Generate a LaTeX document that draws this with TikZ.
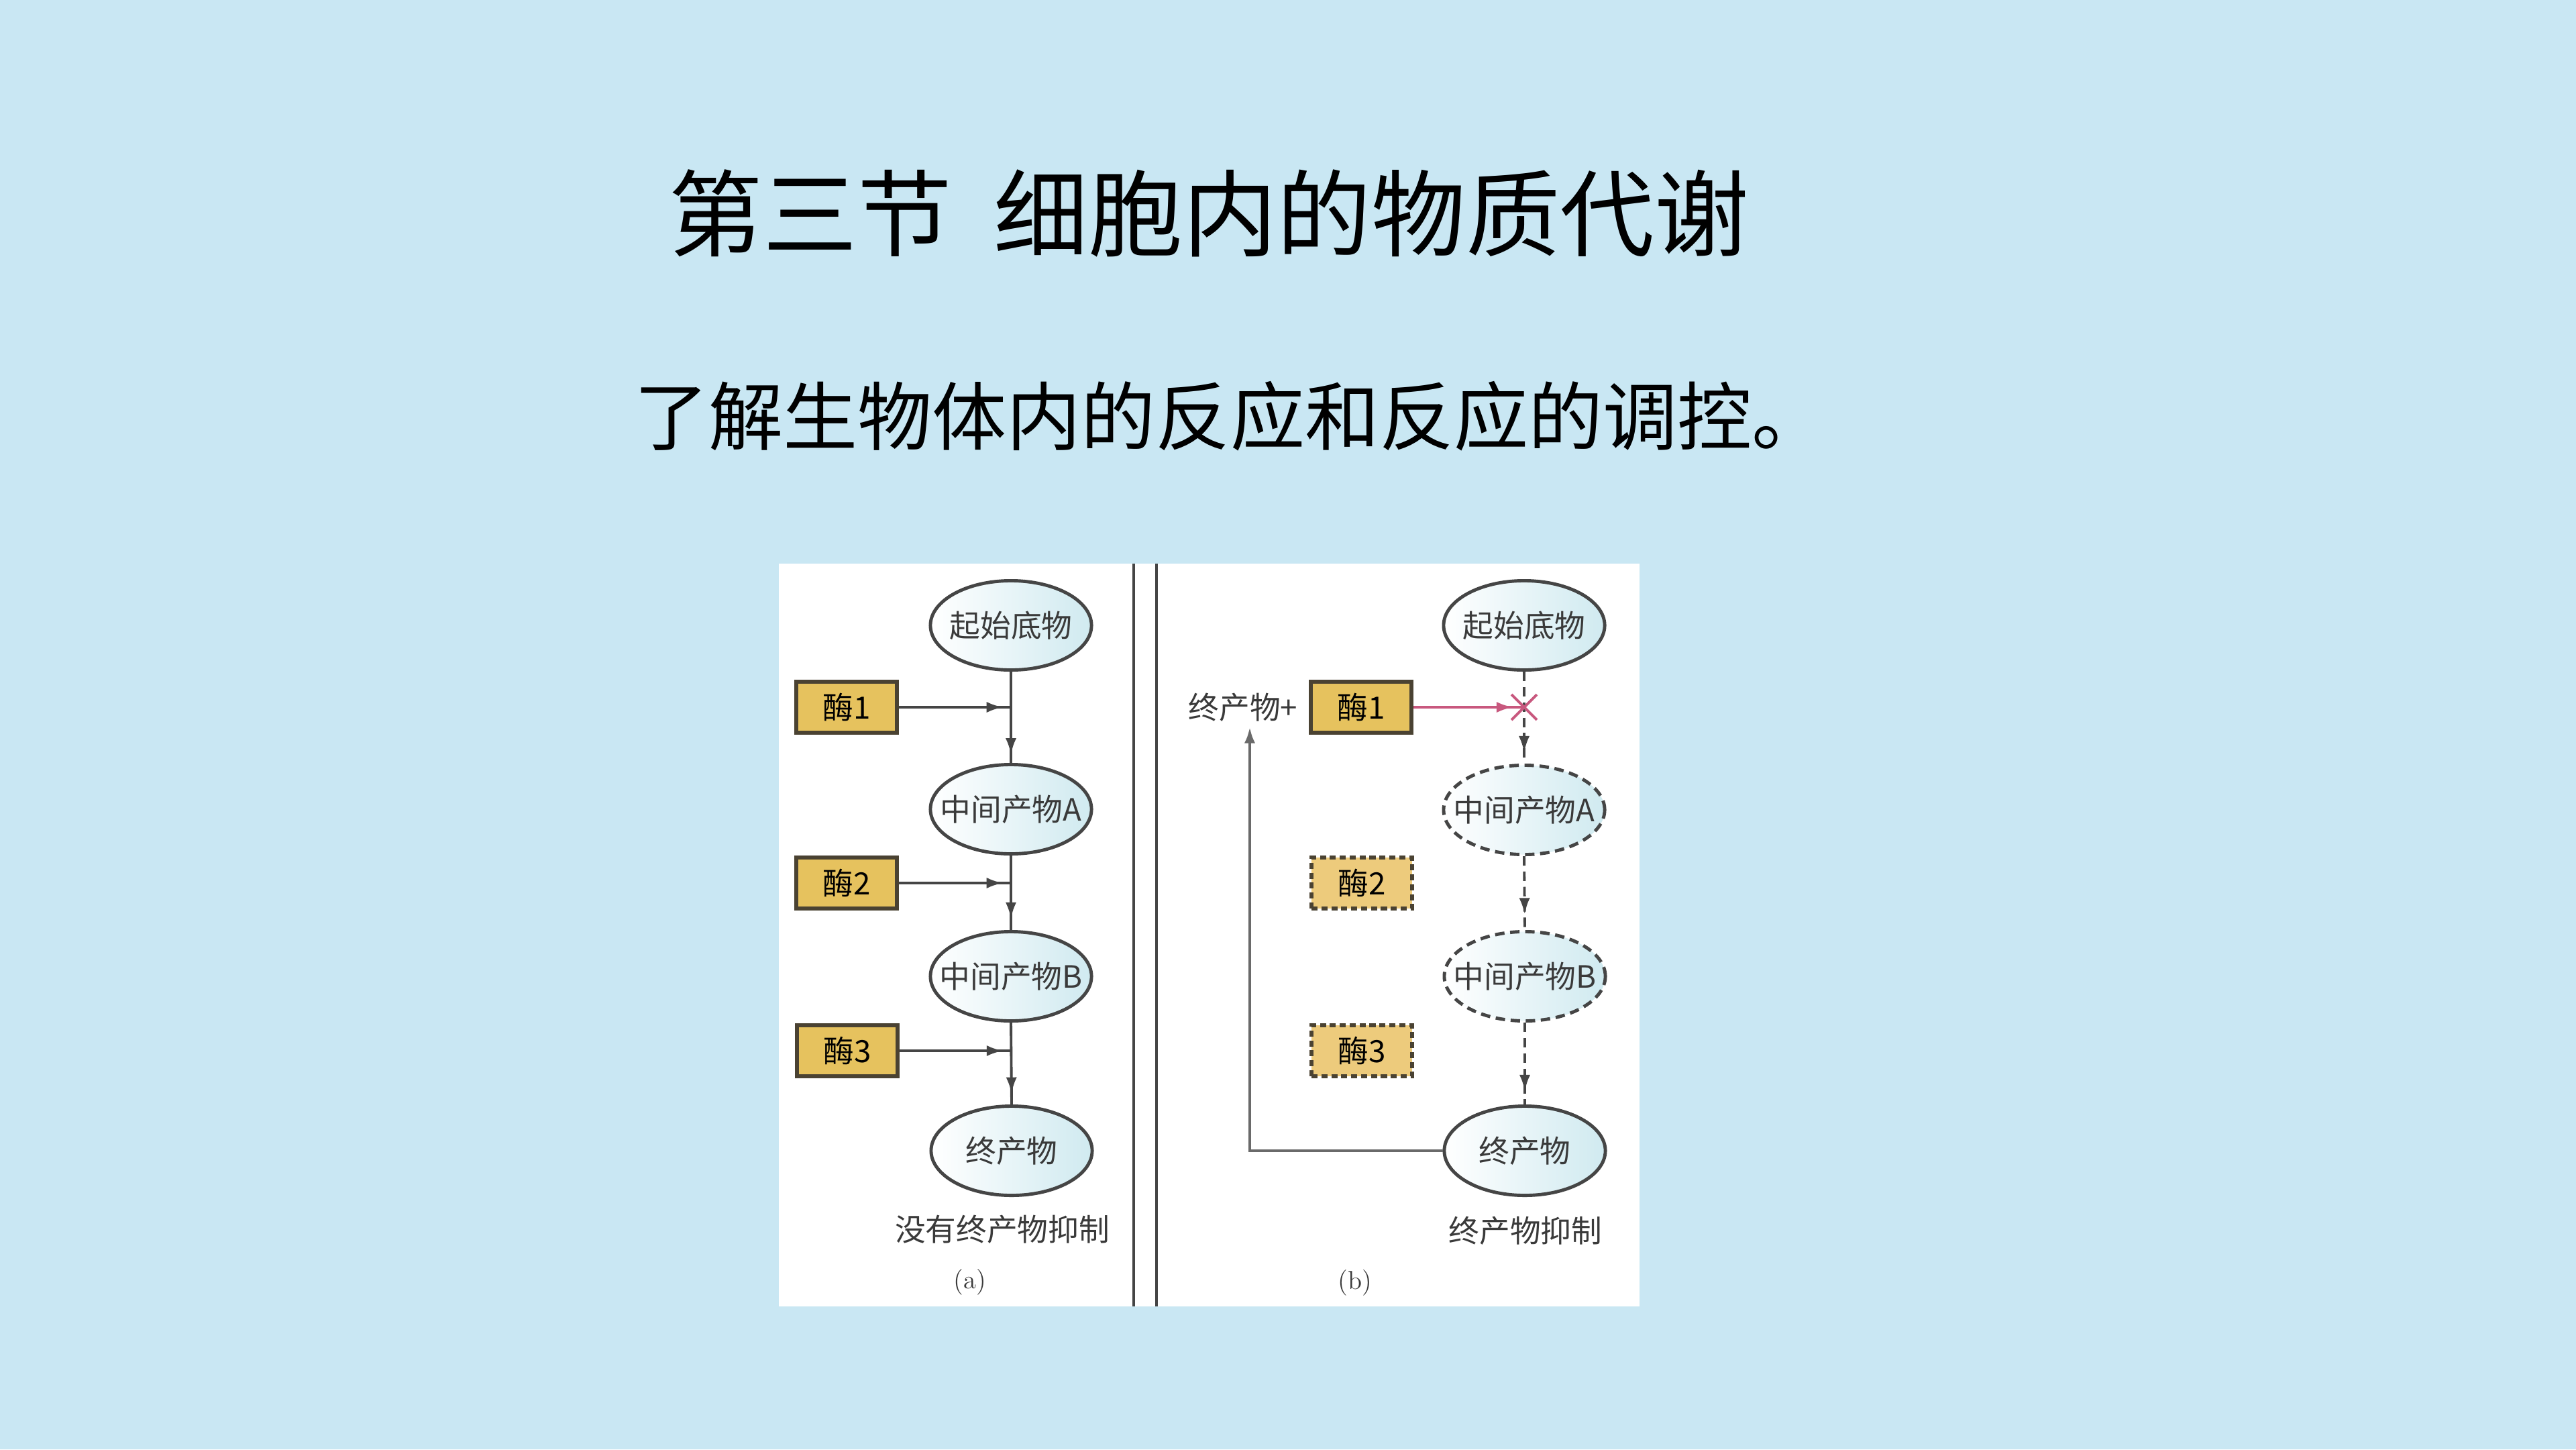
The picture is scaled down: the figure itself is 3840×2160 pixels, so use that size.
\documentclass[tikz,border=0pt]{standalone}
\usepackage{fontspec}
\newfontfamily\cjk{Noto Sans CJK SC}
\usetikzlibrary{shapes.geometric,shapes.misc,arrows.meta,decorations.markings,calc}
\definecolor{bg}{HTML}{C9E7F3}
\definecolor{ellblue}{HTML}{D0EAF0}
\definecolor{gold}{HTML}{E6C25E}
\definecolor{goldlt}{HTML}{EDCB7C}
\definecolor{boxline}{HTML}{4A4232}
\definecolor{linegray}{HTML}{454545}
\definecolor{fbgray}{HTML}{6A6A6A}
\definecolor{pinkc}{HTML}{C8587E}
\definecolor{txt}{HTML}{3A3A3A}
\newcommand{\zw}[1]{\makebox[0pt][c]{#1}}
\tikzset{
  lbl/.style={font=\cjk\fontsize{13pt}{15pt}\selectfont, text=txt},
  ell/.style={ellipse, draw=linegray, line width=1.4pt, left color=white, right color=ellblue,
    minimum width=2.4cm, minimum height=1.33cm, inner sep=0pt, lbl},
  dell/.style={ell, dash pattern=on 4pt off 2.4pt},
  enz/.style={rectangle, draw=boxline, line width=1.7pt, fill=gold, minimum width=1.5cm,
    minimum height=0.76cm, inner sep=0pt, font=\cjk\fontsize{13pt}{15pt}\selectfont, text=black},
  denz/.style={enz, fill=goldlt, dash pattern=on 2.6pt off 1.6pt},
  flow/.style={draw=linegray, line width=1.1pt},
  dflow/.style={flow, dash pattern=on 4pt off 2.5pt},
  tipat/.style={postaction={decorate}, decoration={markings, mark=at position #1 with {\arrow{Latex[length=7pt,width=4.6pt]}}}},
  divider/.style={draw=linegray, line width=1.1pt},
  subcap/.style={font=\fontsize{11pt}{13pt}\selectfont, text=txt},
}
\begin{document}
\begin{tikzpicture}[x=0.01cm,y=-0.01cm]
\fill[bg] (0,0) rectangle (3840,2160);
\useasboundingbox (0,0) rectangle (3840,2160);
% titles
\node[font=\cjk\fontsize{40pt}{48pt}\selectfont, text=black] (title) at (1802,318) {第三节\hspace{0.45em}细胞内的物质代谢};
\node[font=\cjk\fontsize{31.6pt}{36pt}\selectfont, text=black] (sub) at (1834,620) {了解生物体内的反应和反应的调控。};
% panel
\fill[white] (1161,840) rectangle (2444,1947);
\draw[divider] (1690,840) -- (1690,1947);
\draw[divider] (1724,840) -- (1724,1947);
% (a)
\node[ell] (sa) at (1507,932) {\zw{起始底物}};
\node[ell] (aa) at (1507,1206) {\zw{中间产物A}};
\node[ell] (ba) at (1507,1455) {\zw{中间产物B}};
\node[ell] (ea) at (1508,1715) {\zw{终产物}};
\node[enz] (e1a) at (1262,1054) {酶1};
\node[enz] (e2a) at (1262,1316) {酶2};
\node[enz] (e3a) at (1263,1566) {酶3};
\node[lbl] (capa) at (1494,1832) {没有终产物抑制};
\node[subcap] (la) at (1446,1911) {(a)};
\draw[flow, tipat=0.91] (sa.south) -- (aa.north);
\draw[flow, tipat=0.85] (aa.south) -- (ba.north);
\draw[flow, tipat=0.87] (ba.south) -- (ea.north);
\draw[flow, tipat=0.93] (e1a.east) -- (e1a.east -| sa.south);
\draw[flow, tipat=0.93] (e2a.east) -- (e2a.east -| sa.south);
\draw[flow, tipat=0.93] (e3a.east) -- (e3a.east -| sa.south);
% (b)
\node[ell] (sb) at (2272,932) {\zw{起始底物}};
\node[dell] (ab) at (2272,1207) {\zw{中间产物A}};
\node[dell] (bb) at (2273,1455) {\zw{中间产物B}};
\node[ell] (eb) at (2273,1715) {\zw{终产物}};
\node[enz] (e1b) at (2029,1054) {酶1};
\node[denz] (e2b) at (2030,1316) {酶2};
\node[denz] (e3b) at (2030,1566) {酶3};
\node[lbl] (plus) at (1853,1054) {终产物+};
\node[lbl] (capb) at (2274,1834) {终产物抑制};
\node[subcap] (lb) at (2020,1912) {(b)};
\draw[dflow, tipat=0.88] (sb.south) -- (ab.north);
\draw[dflow, tipat=0.79] (ab.south) -- (bb.north);
\draw[dflow, tipat=0.84] (bb.south) -- (eb.north);
\node[cross out, draw=pinkc, line width=1.1pt, minimum size=0.34cm, inner sep=0pt] (xm) at (2272,1054) {};
\draw[draw=pinkc, line width=1.1pt, tipat=0.9] (e1b.east) -- (xm.center);
\coordinate (fbc) at (1863,1715);
\coordinate (fbt) at (1863,1083);
\draw[draw=fbgray, line width=1.4pt, -{Latex[length=7pt,width=4.6pt]}] (eb.west) -- (fbc) -- (fbt);
\end{tikzpicture}
\end{document}
